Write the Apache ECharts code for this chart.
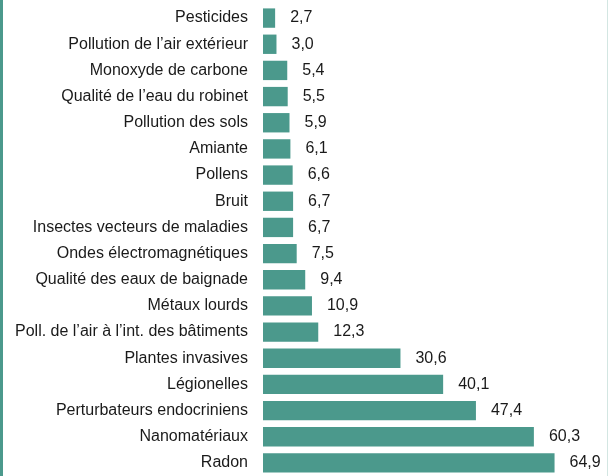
<!DOCTYPE html>
<html>
<head>
<meta charset="utf-8">
<script src="https://cdn.jsdelivr.net/npm/echarts@6/dist/echarts.min.js"></script>
<style>
  html, body { margin: 0; padding: 0; background: #fff; }
  #chart { width: 609px; height: 476px; }
</style>
</head>
<body>
<div id="chart"></div>
<script>
const categories = [
  "Pesticides",
  "Pollution de l’air extérieur",
  "Monoxyde de carbone",
  "Qualité de l’eau du robinet",
  "Pollution des sols",
  "Amiante",
  "Pollens",
  "Bruit",
  "Insectes vecteurs de maladies",
  "Ondes électromagnétiques",
  "Qualité des eaux de baignade",
  "Métaux lourds",
  "Poll. de l’air à l’int. des bâtiments",
  "Plantes invasives",
  "Légionelles",
  "Perturbateurs endocriniens",
  "Nanomatériaux",
  "Radon"
];
const values = [2.7, 3.0, 5.4, 5.5, 5.9, 6.1, 6.6, 6.7, 6.7, 7.5, 9.4, 10.9, 12.3, 30.6, 40.1, 47.4, 60.3, 64.9];

const teal = "#4b998c";
const font = "'Liberation Sans', Arial, sans-serif";

const chart = echarts.init(document.getElementById("chart"));
chart.setOption({
  animation: false,
  grid: { left: 263, right: 54, top: 5, bottom: 0 },
  graphic: [
    { type: "rect", left: 0, top: 0, shape: { width: 3, height: 476 }, style: { fill: teal } },
    { type: "rect", left: 607, top: 0, shape: { width: 1, height: 476 }, style: { fill: "#d3e6e2" } }
  ],
  xAxis: {
    type: "value",
    min: 0,
    max: 65,
    show: false
  },
  yAxis: {
    type: "category",
    inverse: true,
    data: categories,
    axisLine: { show: false },
    axisTick: { show: false },
    axisLabel: {
      margin: 15,
      color: "#1a1a1a",
      fontSize: 16,
      fontFamily: font
    }
  },
  series: [
    {
      type: "bar",
      data: values,
      barCategoryGap: "26%",
      itemStyle: { color: teal },
      label: {
        show: true,
        position: "right",
        distance: 15,
        color: "#1a1a1a",
        fontSize: 16,
        fontFamily: font,
        formatter: (p) => p.value.toFixed(1).replace(".", ",")
      }
    }
  ]
});
</script>
</body>
</html>
